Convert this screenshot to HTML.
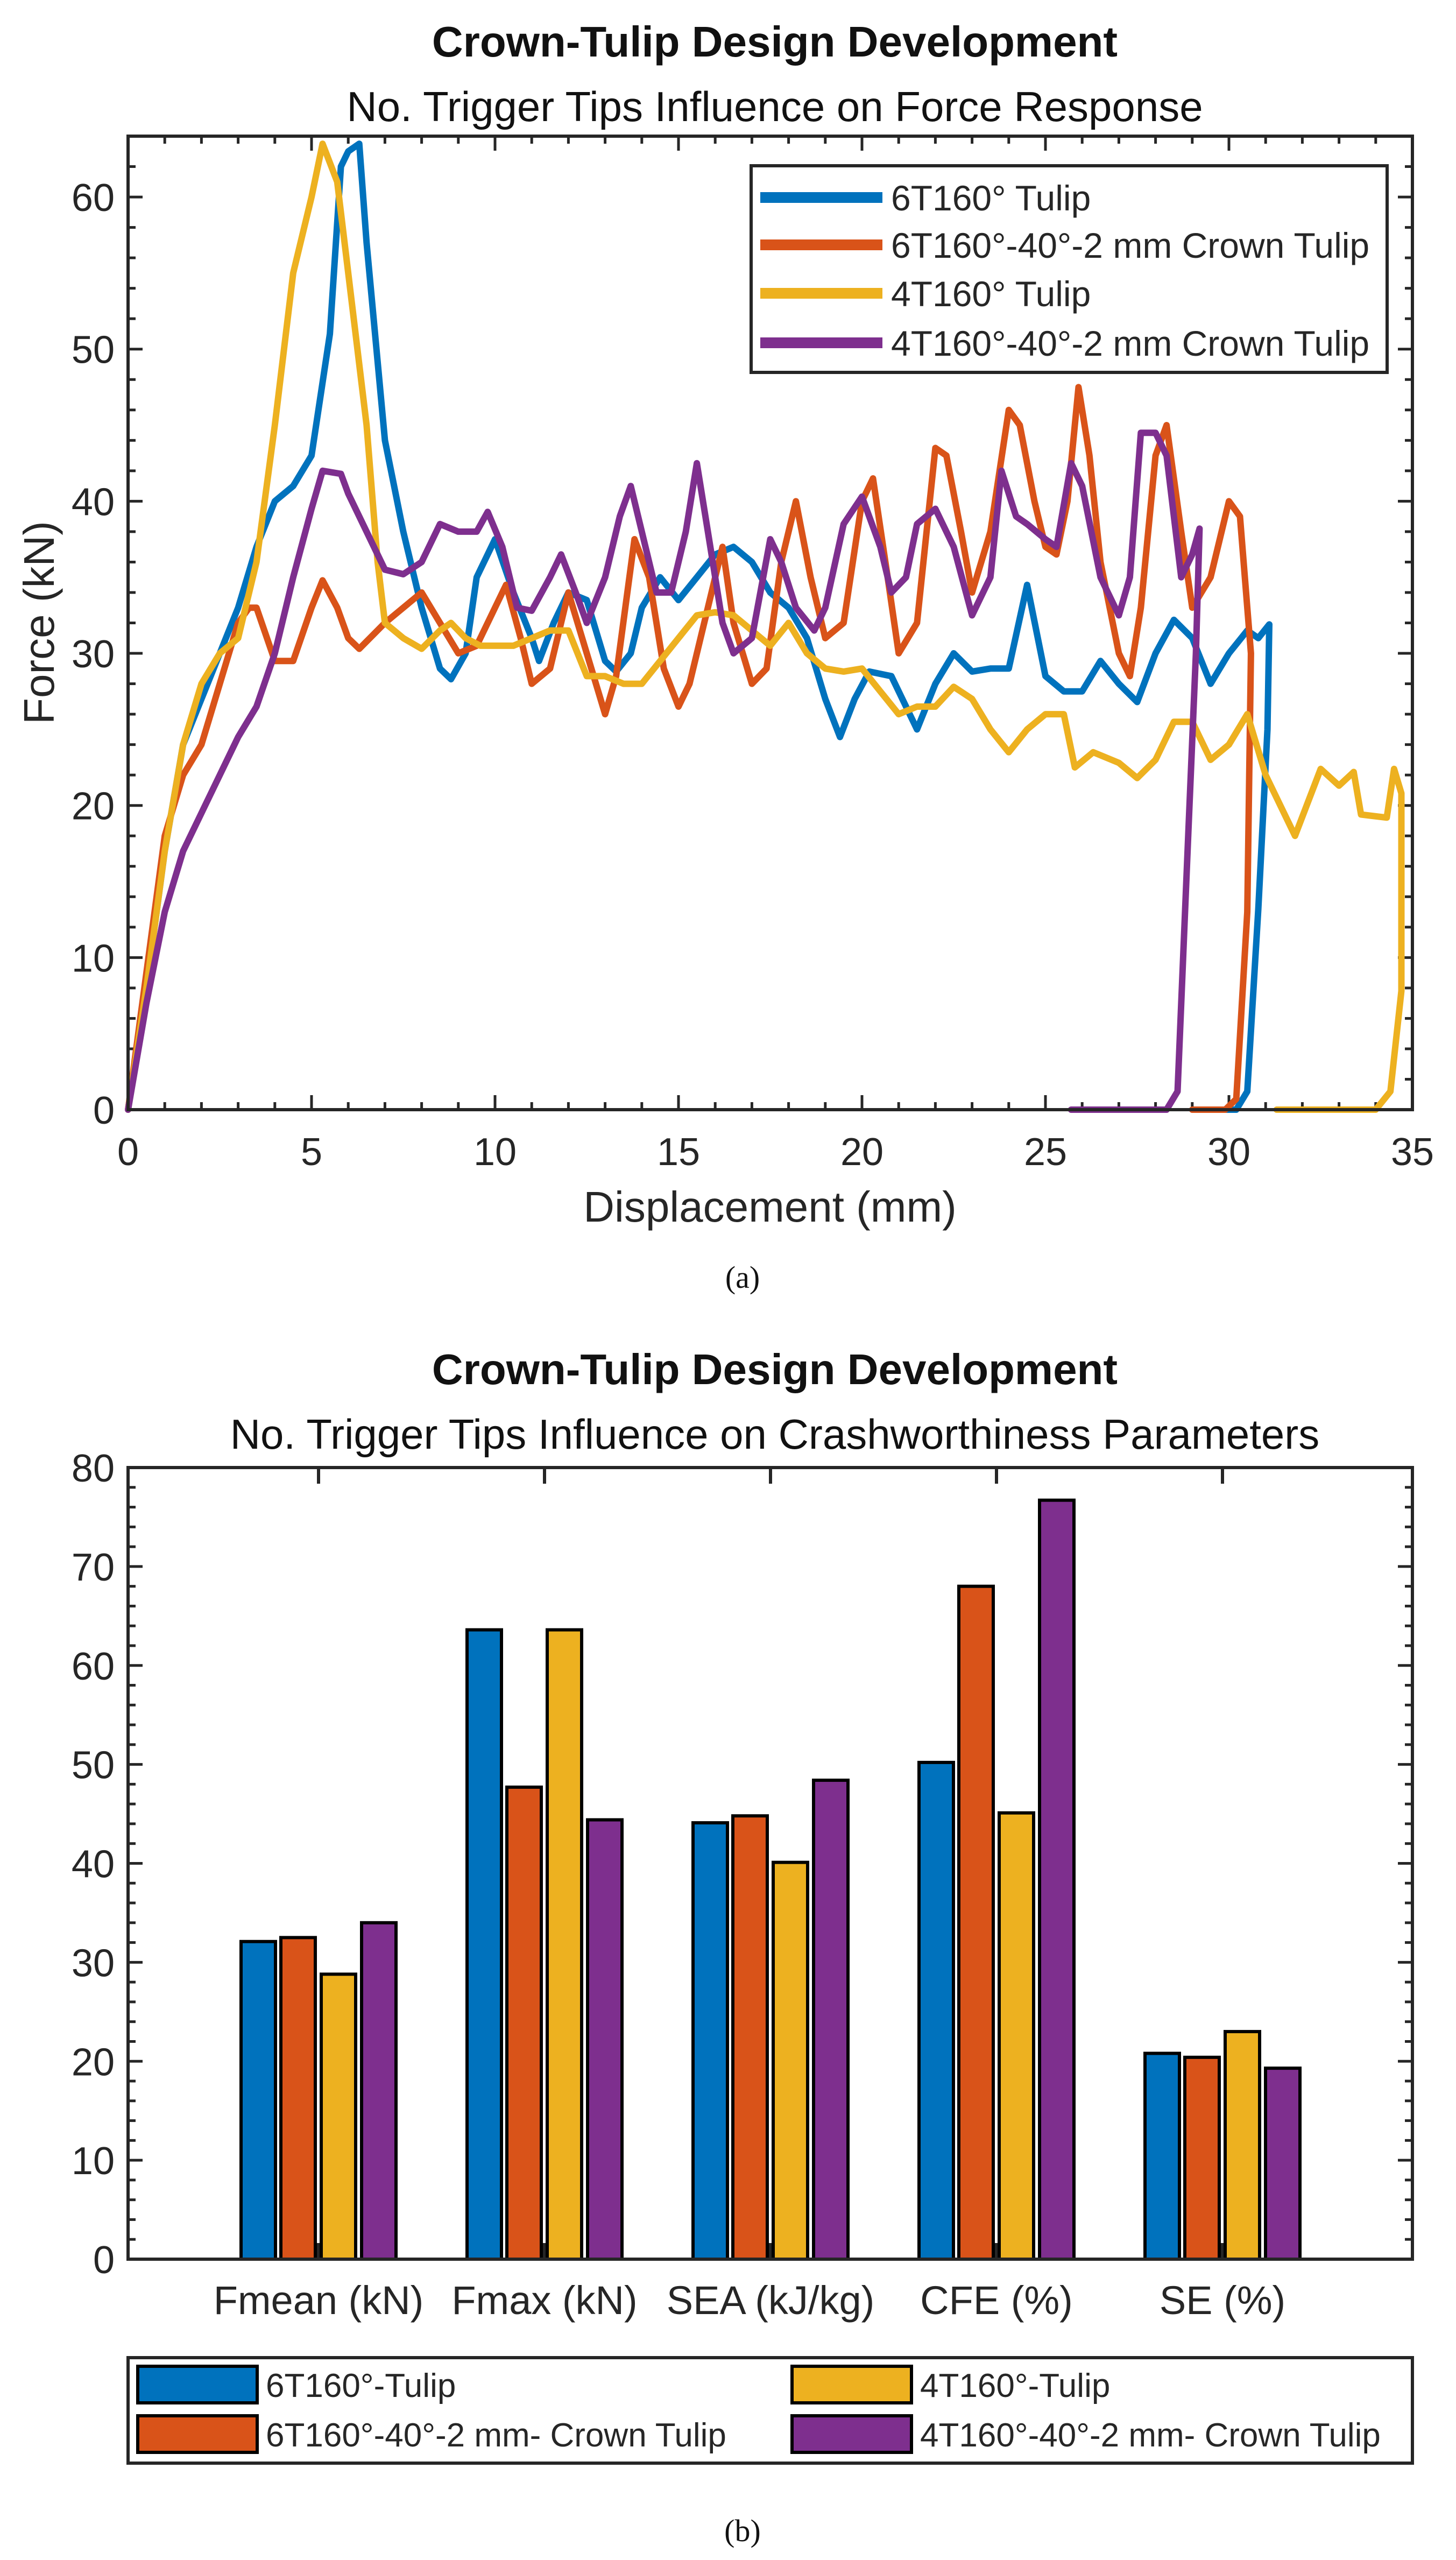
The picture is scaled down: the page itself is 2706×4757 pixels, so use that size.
<!DOCTYPE html>
<html><head><meta charset="utf-8">
<style>
html,body{margin:0;padding:0;background:#fff;}
svg{display:block;font-family:"Liberation Sans",Arial,sans-serif;}
</style></head>
<body>
<svg id="root" width="2706" height="4757" viewBox="0 0 2706 4757" xmlns="http://www.w3.org/2000/svg">
<rect x="0" y="0" width="2706" height="4757" fill="#fff"/>
<!-- Chart A -->
<g id="chartA">
 <text x="1440" y="105" font-size="80" font-weight="bold" text-anchor="middle" fill="#111">Crown-Tulip Design Development</text>
 <text x="1440" y="225" font-size="78" text-anchor="middle" fill="#111">No. Trigger Tips Influence on Force Response</text>
 <g id="aTicks"></g>
 <g id="aLines"></g>
 <rect x="238" y="253" width="2387" height="1809" fill="none" stroke="#262626" stroke-width="6"/>
 <g id="aLegend">
  <rect x="1396" y="308" width="1182" height="384" fill="#fff" stroke="#262626" stroke-width="6"/>
 </g>
 <text transform="translate(100,1157) rotate(-90)" font-size="80" text-anchor="middle" fill="#262626">Force (kN)</text>
 <text x="1431" y="2270" font-size="80" text-anchor="middle" fill="#262626">Displacement (mm)</text>
 <text x="1380" y="2393" font-size="58" text-anchor="middle" font-family="Liberation Serif, serif" fill="#111">(a)</text>
</g>
<!-- Chart B -->
<g id="chartB">
 <text x="1440" y="2572" font-size="80" font-weight="bold" text-anchor="middle" fill="#111">Crown-Tulip Design Development</text>
 <text x="1440" y="2692" font-size="78" text-anchor="middle" fill="#111">No. Trigger Tips Influence on Crashworthiness Parameters</text>
 <g id="bTicks"></g>
 <g id="bBars"></g>
 <rect x="238" y="2727" width="2387" height="1471" fill="none" stroke="#262626" stroke-width="6"/>
 <g id="bLegend">
  <rect x="238" y="4381" width="2387" height="196" fill="#fff" stroke="#262626" stroke-width="6"/>
 </g>
 <text x="1380" y="4722" font-size="58" text-anchor="middle" font-family="Liberation Serif, serif" fill="#111">(b)</text>
</g>
</svg>
<script>
// ---------- Chart A data ----------
const aSeriesNames = ["6T160° Tulip","6T160°-40°-2 mm Crown Tulip","4T160° Tulip","4T160°-40°-2 mm Crown Tulip"];
const aColors = ["#0072BD","#D95319","#EDB120","#7E2F8E"];
const aXTicks = [0,5,10,15,20,25,30,35];
const aYTicks = [0,10,20,30,40,50,60];
const blueX = [0,0.5,1,1.5,2,2.5,3,3.5,4,4.5,5,5.5,5.8,6,6.3,6.5,7,7.5,8,8.5,8.8,9.2,9.5,10,10.5,11,11.2,11.6,12,12.5,13,13.3,13.7,14,14.5,15,15.5,16,16.5,17,17.5,18,18.5,19,19.4,19.8,20.2,20.8,21.5,22,22.5,23,23.5,24,24.5,25,25.5,26,26.5,27,27.5,28,28.5,29,29.5,30,30.5,30.8,31.1,31.05,30.8,30.5,30.2,29.8];
const blueY = [0,8,17,24,27,30,33,37,40,41,43,51,62,63,63.5,57,44,38,33,29,28.3,30,35,37.5,34,31,29.5,32,34,33.5,29.5,28.8,30,33,35,33.5,35,36.5,37,36,34,33,31,27,24.5,27,28.8,28.5,25,28,30,28.8,29,29,34.5,28.5,27.5,27.5,29.5,28,26.8,30,32.2,31,28,30,31.5,31,31.9,25,13.2,1.2,0,0];
const orangeX = [0,0.5,1,1.5,2,2.5,3,3.3,3.5,4,4.5,5,5.3,5.7,6,6.3,7,7.5,8,8.5,9,9.5,10,10.3,10.7,11,11.5,12,12.5,13,13.3,13.8,14.2,14.6,15,15.3,15.8,16.2,16.5,17,17.4,17.8,18.2,18.6,19,19.5,20,20.3,20.7,21,21.5,22,22.3,22.7,23,23.5,24,24.3,24.7,25,25.3,25.6,25.9,26.2,26.5,27,27.3,27.6,28,28.3,28.7,29,29.5,30,30.3,30.6,30.5,30.2,29.9,29.0];
const orangeY = [0,9,18,22,24,28,32,33,33,29.5,29.5,33,34.8,33,31,30.3,32,33,34,32,30,30.5,33,34.5,31,28,29,34,30,26,28.5,37.5,35,29,26.5,28,33,37,32,28,29,36,40,35,31,32,40,41.5,35,30,32,43.5,43,38,34,38,46,45,40,37,36.5,40,47.5,43,36,30,28.5,33,43,45,38,33,35,40,39,30,13,0.7,0,0];
const yellowX = [0,0.5,1,1.5,2,2.5,3,3.5,4,4.5,5,5.3,5.7,6,6.5,6.8,7,7.5,8,8.5,8.8,9.2,9.6,10.5,11,11.5,12,12.5,13,13.5,14,14.5,15,15.5,16,16.5,17,17.5,18,18.5,19,19.5,20,20.5,21,21.5,22,22.5,23,23.5,24,24.5,25,25.5,25.8,26.3,27,27.5,28,28.5,29,29.5,30,30.5,31,31.8,32.5,33,33.4,33.6,34.3,34.5,34.7,34.7,34.4,34,31.3];
const yellowY = [0,8,17,24,28,30,31,36,45,55,60,63.5,61,55,45,36,32,31,30.3,31.5,32,31,30.5,30.5,31,31.5,31.5,28.5,28.5,28,28,29.5,31,32.5,32.7,32.5,31.5,30.5,32,30,29,28.8,29,27.5,26,26.5,26.5,27.8,27,25,23.5,25,26,26,22.5,23.5,22.8,21.8,23,25.5,25.5,23,24,26,22,18,22.4,21.3,22.2,19.4,19.2,22.4,20.8,7.8,1.2,0,0];
const purpleX = [0,0.5,1,1.5,2,2.5,3,3.5,4,4.5,5,5.3,5.8,6,6.5,7,7.5,8,8.5,9,9.5,9.8,10.2,10.6,11,11.5,11.8,12.2,12.5,13,13.4,13.7,14,14.4,14.8,15.2,15.5,15.8,16.2,16.5,17,17.5,17.8,18.2,18.7,19,19.5,20,20.5,20.8,21.2,21.5,22,22.5,23,23.5,23.8,24.2,24.5,25,25.3,25.7,26,26.5,27,27.3,27.6,28,28.3,28.7,29,29.2,29.1,28.9,28.6,28.3,25.7];
const purpleY = [0,7,13,17,19.5,22,24.5,26.5,30,35,39.5,42,41.8,40.5,38,35.5,35.2,36,38.5,38,38,39.3,37,33,32.8,35,36.5,34,32,35,39,41,38,34,34,38,42.5,38,32,30,31,37.5,36,33,31.5,33,38.5,40.3,37,34,35,38.5,39.5,37,32.5,35,42,39,38.5,37.5,37,42.5,41,35,32.5,35,44.5,44.5,43,35,36.5,38.2,30,18.6,1.2,0,0];
// ---------- Chart B data ----------
const bCategories = ["Fmean (kN)","Fmax (kN)","SEA (kJ/kg)","CFE (%)","SE (%)"];
const bSeriesNames = ["6T160°-Tulip","6T160°-40°-2 mm- Crown Tulip","4T160°-Tulip","4T160°-40°-2 mm- Crown Tulip"];
const bVals6T = [32.1,63.6,44.1,50.2,20.8];
const bVals6TC = [32.5,47.7,44.8,68.0,20.4];
const bVals4T = [28.8,63.6,40.1,45.1,23.0];
const bVals4TC = [34.0,44.4,48.4,76.7,19.3];
const bYTicks = [0,10,20,30,40,50,60,70,80];

const NS="http://www.w3.org/2000/svg";
function mk(tag,attrs,parent){const e=document.createElementNS(NS,tag);for(const k in attrs)e.setAttribute(k,attrs[k]);parent.appendChild(e);return e;}
const INK="#262626";
// Chart A axes
const aL=238,aR=2625,aT=253,aB=2062,aXmax=35,aYmax=64;
const ax=v=>aL+(aR-aL)*v/aXmax;
const ay=v=>aB-(aB-aT)*v/aYmax;
const aTk=document.getElementById('aTicks');
for(let v=0;v<=aXmax;v++){const major=v%5===0;const len=major?27:14;
 const t1=mk('line',{x1:ax(v),x2:ax(v),y1:aB,y2:aB-len,stroke:INK,'stroke-width':5},aTk);
 
 
 mk('line',{x1:ax(v),x2:ax(v),y1:aT,y2:aT+len,stroke:INK,'stroke-width':5},aTk);}
for(let v=0;v<=aYmax;v+=2){const major=v%10===0;const len=major?27:14;
 const t2=mk('line',{x1:aL,x2:aL+len,y1:ay(v),y2:ay(v),stroke:INK,'stroke-width':5},aTk);
 
 
 mk('line',{x1:aR,x2:aR-len,y1:ay(v),y2:ay(v),stroke:INK,'stroke-width':5},aTk);}
aXTicks.forEach(v=>{const t=mk('text',{x:ax(v),y:aB+103,'font-size':72,'text-anchor':'middle',fill:INK},aTk);t.textContent=v;
 
 });
aYTicks.forEach(v=>{const t=mk('text',{x:aL-25,y:ay(v)+26,'font-size':72,'text-anchor':'end',fill:INK},aTk);t.textContent=v;
 
 });
const aData=[[blueX,blueY],[orangeX,orangeY],[yellowX,yellowY],[purpleX,purpleY]];
const aLines=document.getElementById('aLines');
const lineNames=['line-6t-tulip','line-6t-crown-tulip','line-4t-tulip','line-4t-crown-tulip'];
aData.forEach((d,i)=>{let p='';d[0].forEach((x,j)=>{p+=(j?'L':'M')+ax(x).toFixed(1)+','+ay(d[1][j]).toFixed(1)});
 const e=mk('path',{d:p,fill:'none',stroke:aColors[i],'stroke-width':12,'stroke-linejoin':'round','stroke-linecap':'round'},aLines);
 
 });
const aLeg=document.getElementById('aLegend');
const aRowY=[367,455,545,637];
aSeriesNames.forEach((n,i)=>{
 const ln=mk('line',{x1:1413,x2:1640,y1:aRowY[i],y2:aRowY[i],stroke:aColors[i],'stroke-width':20},aLeg);
 
 
 const t=mk('text',{x:1656,y:aRowY[i]+24,'font-size':66,fill:INK},aLeg);t.textContent=n;
 
 });
// Chart B axes
const bL=238,bR=2625,bT=2727,bB=4198,bYmax=80;
const by=v=>bB-(bB-bT)*v/bYmax;
const bx=i=>592+420*i;
const bOff=[-112,-38,37,112],bW=64;
const bTk=document.getElementById('bTicks');
for(let v=0;v<=bYmax;v+=2){const major=v%10===0;const len=major?27:14;
 const t=mk('line',{x1:bL,x2:bL+len,y1:by(v),y2:by(v),stroke:INK,'stroke-width':5},bTk);
 
 
 mk('line',{x1:bR,x2:bR-len,y1:by(v),y2:by(v),stroke:INK,'stroke-width':5},bTk);}
bCategories.forEach((c,i)=>{
 mk('line',{x1:bx(i),x2:bx(i),y1:bB,y2:bB-30,stroke:INK,'stroke-width':6},bTk);
 mk('line',{x1:bx(i),x2:bx(i),y1:bT,y2:bT+30,stroke:INK,'stroke-width':6},bTk);
 const t=mk('text',{x:bx(i),y:bB+102,'font-size':74,'text-anchor':'middle',fill:INK},bTk);t.textContent=c;
 
 });
bYTicks.forEach(v=>{const t=mk('text',{x:bL-25,y:by(v)+26,'font-size':72,'text-anchor':'end',fill:INK},bTk);t.textContent=v;
 
 });
const bData=[bVals6T,bVals6TC,bVals4T,bVals4TC];
const bBars=document.getElementById('bBars');
bData.forEach((vals,s)=>{vals.forEach((v,i)=>{
 const x=bx(i)+bOff[s]-bW/2;
 const r=mk('rect',{x:x,y:by(v),width:bW,height:bB-by(v),fill:aColors[s],stroke:'#000','stroke-width':6},bBars);
 
 });});
const bLeg=document.getElementById('bLegend');
const bLegPos=[[256,4397],[1472,4397],[256,4489],[1472,4489]];
const bLegOrder=[0,2,1,3];
bLegOrder.forEach((s,k)=>{const [x,y]=bLegPos[k];
 const sw=mk('rect',{x:x,y:y,width:222,height:68,fill:aColors[s],stroke:'#000','stroke-width':6},bLeg);
 
 
 const t=mk('text',{x:x+238,y:y+57,'font-size':62,fill:INK},bLeg);t.textContent=bSeriesNames[s];
 
 });
</script>
</body></html>
